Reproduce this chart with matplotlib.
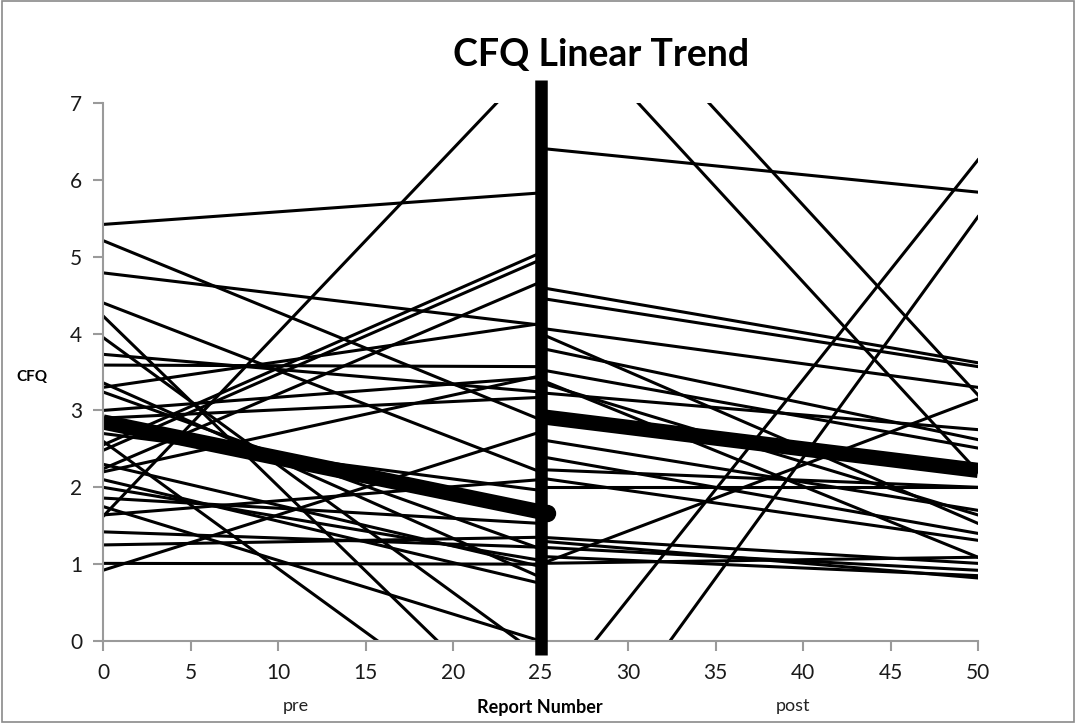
"""
CFQ linear trend: pre / post individual regression lines with group means.
"""

import matplotlib
matplotlib.use("Agg")
import matplotlib.pyplot as plt
from matplotlib.patches import Rectangle

plt.rcParams["font.family"] = ["Lato", "DejaVu Sans"]

# report numbers at which each fitted segment starts / ends
pre_x = [0, 25]
post_x = [25, 50]

# individual pre-phase trend lines (value at report 0, value at report 25)
pre_start = [5.42, 5.21, 4.79, 4.40, 4.23, 3.95, 3.73, 3.59, 3.36, 3.30,
             3.24, 3.00, 2.90, 2.55, 2.48, 2.30, 2.24, 2.20, 2.00, 2.60,
             1.86, 1.64, 1.62, 1.42, 1.25, 1.01, 0.92, 2.70, 1.75, 2.10]
pre_end = [5.83, 2.88, 4.11, 2.20, -1.30, -0.20, 3.24, 3.57, 0.83, 4.13,
           1.20, 3.43, 3.17, 5.05, 4.96, 0.97, 4.67, 3.45, 1.05, -1.54,
           1.53, 2.10, 7.60, 1.22, 1.35, 1.00, 2.72, 1.96, 0.00, 0.75]

# individual post-phase trend lines (value at report 25, value at report 50)
post_start = [6.41, 4.60, 4.46, 4.07, 4.00, 3.81, 3.53, 3.36, 3.23, 3.40,
              2.62, 2.23, 2.12, 2.00, 1.35, 1.22, 1.01, 1.10, 1.30, 2.40,
              8.38, 9.38, -0.89, -2.32, 1.00]
post_end = [5.84, 3.62, 3.57, 3.30, 1.53, 2.62, 2.51, 1.64, 2.75, 1.09,
            1.70, 2.00, 1.31, 2.00, 1.01, 0.92, 1.09, 0.85, 0.82, 1.40,
            2.20, 3.20, 6.26, 5.52, 3.15]

# group mean trends
pre_mean = [2.85, 1.68]
post_mean = [2.92, 2.22]

xticks = list(range(0, 51, 5))
yticks = list(range(0, 8))

fig = plt.figure(figsize=(10.76, 7.23), dpi=100)
ax = fig.add_axes([103 / 1076, 1 - 641 / 723, 875 / 1076, 538 / 723])

for s, e in zip(pre_start, pre_end):
    ax.plot(pre_x, [s, e], color="black", lw=2.2)
for s, e in zip(post_start, post_end):
    ax.plot(post_x, [s, e], color="black", lw=2.2)

ax.plot(pre_x, pre_mean, color="black", lw=11, solid_capstyle="butt")
ax.plot([25.35], [pre_mean[1] - 0.01], "o", color="black", ms=11.5,
        zorder=6, clip_on=False)
ax.plot(post_x, post_mean, color="black", lw=11, solid_capstyle="butt")

# divider between the pre and post phases
ax.plot([25, 25], [-0.18, 7.3], color="black", lw=9,
        solid_capstyle="butt", clip_on=False, zorder=5)

ax.set_xlim(0, 50)
ax.set_ylim(0, 7)
ax.set_xticks(xticks)
ax.set_yticks(yticks)
ax.tick_params(labelsize=15, color="#9a9a9a", length=7, width=1.5,
               labelcolor="#1a1a1a")
ax.tick_params(axis="x", pad=9)
ax.tick_params(axis="y", pad=8)
for side in ("top", "right"):
    ax.spines[side].set_visible(False)
for side in ("left", "bottom"):
    ax.spines[side].set_color("#9a9a9a")
    ax.spines[side].set_linewidth(1.5)

fig.text(601 / 1076, 1 - 55 / 723, "CFQ Linear Trend", fontsize=27,
         fontweight="bold", ha="center", va="center")
fig.text(32 / 1076, 1 - 377 / 723, "CFQ", fontsize=11,
         fontweight="bold", ha="center", va="center")
fig.text(540 / 1076, 1 - 708 / 723, "Report Number", fontsize=13,
         fontweight="bold", ha="center", va="center")
fig.text(296 / 1076, 1 - 706 / 723, "pre", fontsize=13,
         ha="center", va="center", color="#222222")
fig.text(793 / 1076, 1 - 706 / 723, "post", fontsize=13,
         ha="center", va="center", color="#222222")

# outer chart-area border
fig.patches.append(Rectangle((0.002, 0.002), 0.996, 0.996,
                             transform=fig.transFigure, fill=False,
                             edgecolor="#8a8a8a", lw=1.2))

fig.savefig("out.png", dpi=100)
